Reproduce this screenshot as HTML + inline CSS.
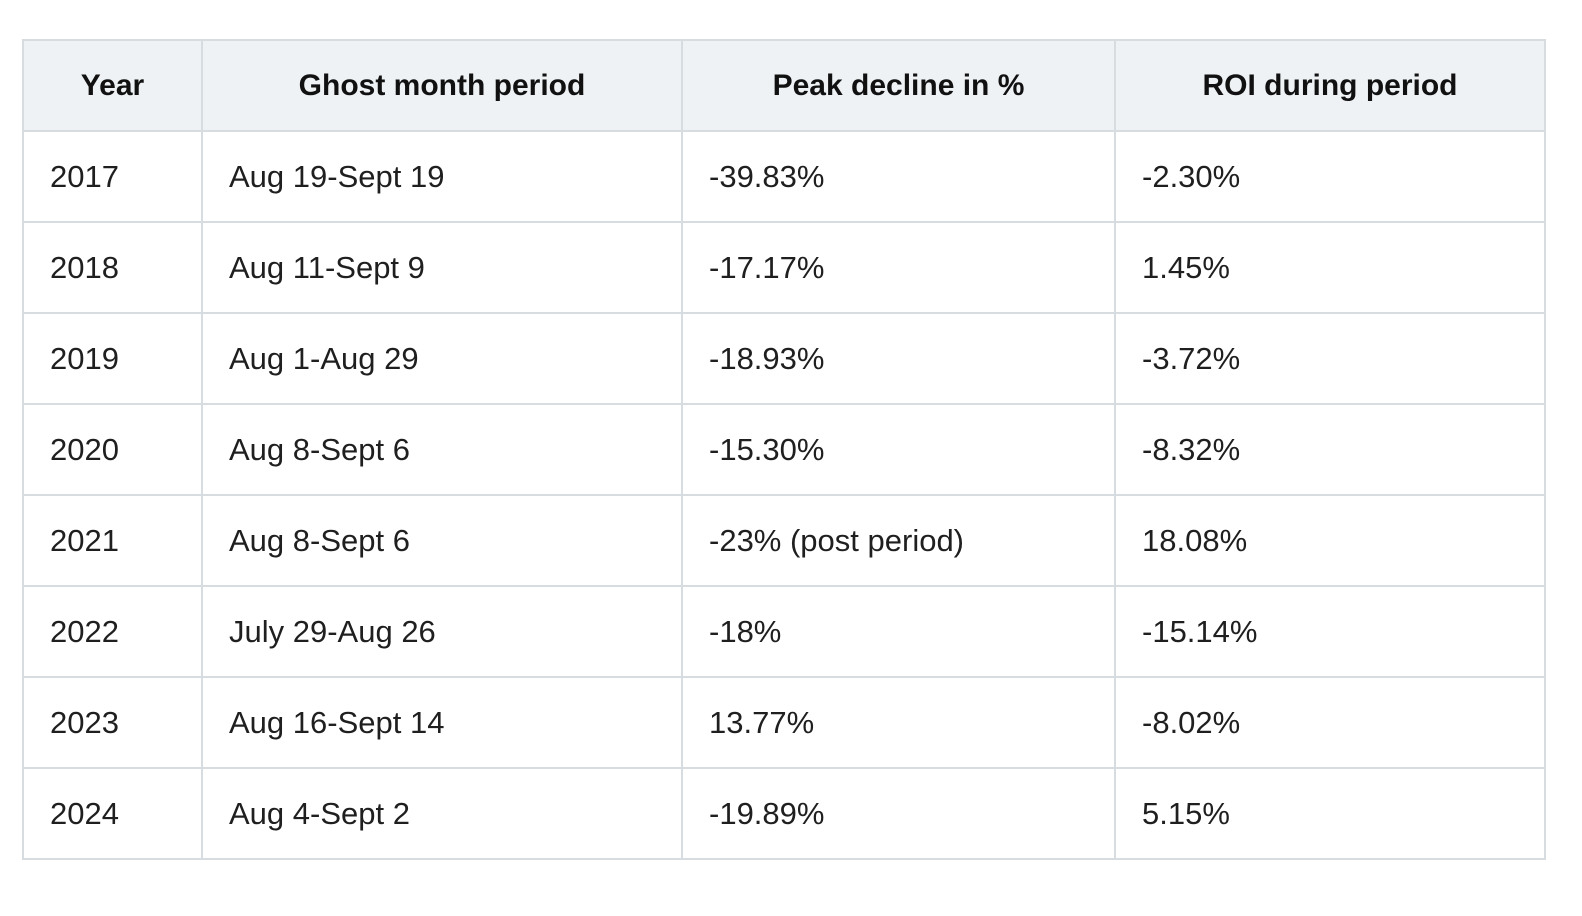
<!DOCTYPE html>
<html><head><meta charset="utf-8"><style>
body{margin:0;width:1582px;height:916px;background:#fff;font-family:"Liberation Sans",sans-serif;overflow:hidden}
table{position:absolute;left:22px;top:39px;border-collapse:collapse;color:#1f1f1f;table-layout:fixed;width:1522px}
td,th{border:2px solid #d6dcdf;height:91px;padding:0 0 0 26px;font-size:31px;text-align:left;font-weight:normal;box-sizing:border-box}
th{background:#eef2f4;font-weight:bold;text-align:center;padding:0;color:#111;font-size:30px}
</style></head><body>
<table>
<colgroup><col style="width:179px"><col style="width:480px"><col style="width:433px"><col style="width:430px"></colgroup>
<tr><th>Year</th><th>Ghost month period</th><th>Peak decline in %</th><th>ROI during period</th></tr>
<tr><td>2017</td><td>Aug 19-Sept 19</td><td>-39.83%</td><td>-2.30%</td></tr>
<tr><td>2018</td><td>Aug 11-Sept 9</td><td>-17.17%</td><td>1.45%</td></tr>
<tr><td>2019</td><td>Aug 1-Aug 29</td><td>-18.93%</td><td>-3.72%</td></tr>
<tr><td>2020</td><td>Aug 8-Sept 6</td><td>-15.30%</td><td>-8.32%</td></tr>
<tr><td>2021</td><td>Aug 8-Sept 6</td><td>-23% (post period)</td><td>18.08%</td></tr>
<tr><td>2022</td><td>July 29-Aug 26</td><td>-18%</td><td>-15.14%</td></tr>
<tr><td>2023</td><td>Aug 16-Sept 14</td><td>13.77%</td><td>-8.02%</td></tr>
<tr><td>2024</td><td>Aug 4-Sept 2</td><td>-19.89%</td><td>5.15%</td></tr>
</table>
</body></html>
